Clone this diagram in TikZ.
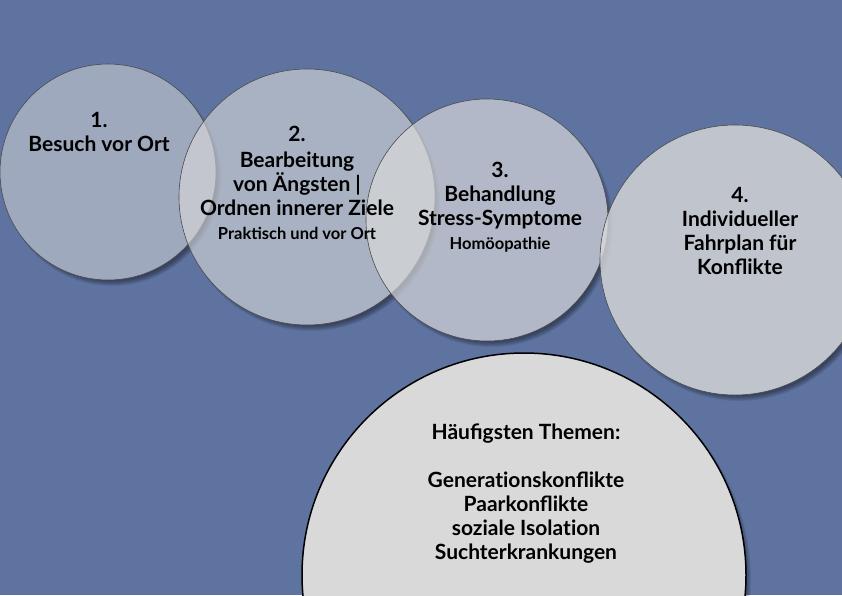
\documentclass[tikz,border=0pt]{standalone}
\usepackage{fontspec}
\setmainfont{Lato}
\definecolor{bgblue}{HTML}{5E73A0}
\definecolor{discgray}{HTML}{DADADA}
\definecolor{topicgray}{HTML}{D9D9D9}
\definecolor{rim}{HTML}{4A4A4A}
% soft shadow down right, kept outside the disc
\newcommand\dropshade[3]{%
  \begin{scope}[even odd rule]
    \clip (-5,-5) rectangle (847,600) (#1,#2) circle (#3pt);
    \foreach \k in {0,...,5}
      \fill[black, opacity=.08] (#1+4,#2+5) circle [radius={#3+1-\k}];
  \end{scope}}
\newcommand\tiapart{t\kern0pt i}
\begin{document}
\begin{tikzpicture}[x=1pt,y=-1pt,
  disc/.style={fill=discgray, fill opacity=#1, draw=rim, line width=.6pt},
  txt/.style={font=\bfseries\fontsize{21}{24}\selectfont, align=center, inner sep=0pt, anchor=north}]
\def\firstcircle{(108,172) circle (108pt)}
\def\secondcircle{(307,197) circle (128pt)}
\def\thirdcircle{(487,220) circle (121pt)}
\def\fourthcircle{(735,260) circle (135pt)}
\def\topiccircle{(524,575) circle (222pt)}

\fill[bgblue] (0,0) rectangle (842,595);
\useasboundingbox (0,0) rectangle (842,595);

\dropshade{108}{172}{108}
\draw[disc=.53] \firstcircle;
\dropshade{307}{197}{128}
\draw[disc=.61] \secondcircle;
\dropshade{487}{220}{121}
\draw[disc=.68] \thirdcircle;
\dropshade{735}{260}{135}
\draw[disc=.79] \fourthcircle;
\dropshade{524}{575}{222}
\draw[fill=topicgray, draw=black, line width=1.5pt] \topiccircle;

\node[txt] (step1) at (99,112) {1.\\Besuch vor Ort};
\node[txt] (step2) at (297,126) {2.\\[2pt]Bearbeitung\\von Ängsten |\\Ordnen innerer Ziele\\
  {\fontsize{16.5}{24}\selectfont Praktisch und vor Ort}};
\node[txt] (step3) at (500,162) {3.\\Behandlung\\Stress-Symptome\\
  {\fontsize{16.5}{24}\selectfont Homöopathie}};
\node[txt] (step4) at (740,187) {4.\\Individueller\\Fahrplan für\\Konflikte};
\node[txt] (topics) at (526,424) {Häufigsten Themen:\\[24pt]Genera\tiapart onskonflikte\\Paarkonflikte\\
  soziale Isola\tiapart on\\Suchterkrankungen};
\end{tikzpicture}
\end{document}
